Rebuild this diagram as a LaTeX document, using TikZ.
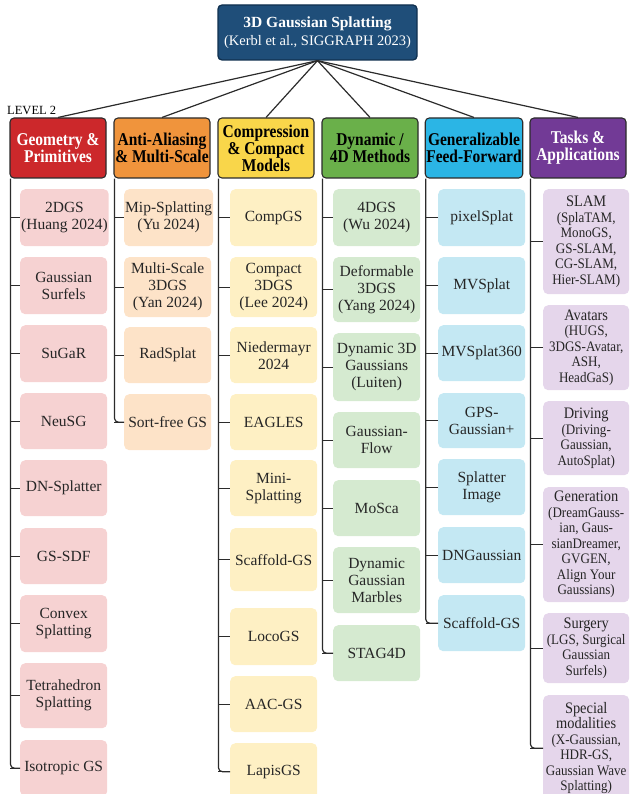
\documentclass[tikz,border=0pt]{standalone}
\usepackage{fontspec}
\setmainfont{Liberation Serif}
\newfontfamily\narrowfont{Liberation Serif}[FakeStretch=0.86]
\newfontfamily\semifont{Liberation Serif}[FakeStretch=0.9]
\usepackage{tikz}
\usetikzlibrary{calc}

\definecolor{rootc}{HTML}{1F4E79}
\definecolor{rootd}{HTML}{10304F}
\definecolor{linec}{HTML}{2B2B2B}
\definecolor{geoc}{HTML}{CC282B}
\definecolor{geol}{HTML}{F6D2D2}
\definecolor{aac}{HTML}{F0943C}
\definecolor{aal}{HTML}{FDE3C8}
\definecolor{cmpc}{HTML}{F9D64A}
\definecolor{cmpl}{HTML}{FEF0C4}
\definecolor{dync}{HTML}{6AB04A}
\definecolor{dynl}{HTML}{D5EAD0}
\definecolor{genc}{HTML}{2BB5E5}
\definecolor{genl}{HTML}{C4E8F3}
\definecolor{appc}{HTML}{723A96}
\definecolor{appl}{HTML}{E5D6EB}

\newcommand\tasktitle[1]{{\fontsize{16}{15.5}\selectfont #1}}

\tikzset{
  link/.style={draw=linec, line width=1.2pt},
  rootbox/.style={draw=rootd, line width=1.3pt, fill=rootc, rounded corners=4pt, text=white,
    align=center, minimum width=199pt, minimum height=55pt, inner sep=1pt,
    font={\fontsize{15}{18}\selectfont}},
  catbox/.style={draw=linec, line width=1.1pt, rounded corners=4pt, align=center,
    minimum width=96pt, minimum height=60pt, inner sep=1pt,
    font={\narrowfont\bfseries\fontsize{18}{17}\selectfont}},
  leafbox/.style={anchor=north west, rounded corners=5pt, align=center, minimum width=87pt,
    inner xsep=1pt, inner ysep=2pt, text=black!85, font={\fontsize{15.5}{17}\selectfont}},
}

\begin{document}
\begin{tikzpicture}[x=1pt, y=-1pt]
  % Boundary
  \path[use as bounding box] (0,0) rectangle (629,794);
  % Root
  \node[rootbox] (root) at (317.5,32.5)
    {{\bfseries\fontsize{15.5}{18}\selectfont 3D Gaussian Splatting}\\{\fontsize{14.5}{18}\selectfont (Kerbl et al., SIGGRAPH 2023)}};
  \node[anchor=base west, inner sep=0pt, font={\fontsize{12.5}{14}\selectfont}] (lvl) at (7,115) {LEVEL 2};
  % Level 2
  \node[catbox, fill=geoc, text=white] (geo) at (58,148) {Geometry \&\\Primitives};
  \node[catbox, fill=aac] (aa) at (162,148) {Anti-Aliasing\\\& Multi-Scale};
  \node[catbox, fill=cmpc] (cmp) at (266,148) {Compression\\\& Compact\\Models};
  \node[catbox, fill=dync] (dyn) at (370,148) {Dynamic /\\4D Methods};
  \node[catbox, fill=genc] (gen) at (474,148) {Generalizable\\Feed-Forward};
  \node[catbox, fill=appc, text=white] (app) at (578,148) {Tasks \&\\Applications};
  \foreach \c in {geo,aa,cmp,dyn,gen,app}
    \draw[link] (root.south) -- (\c.north);
  % Trunks
  \foreach \c in {geo,aa,cmp,dyn,gen,app}
    \coordinate (\c t) at ($(\c.south west)+(1,0)$);
  % Geometry
  \foreach \ytop/\hh/\lbl [count=\i] in {189/57/{2DGS\\(Huang 2024)}, 257/57/{Gaussian\\Surfels},
      325/57/SuGaR, 393/56/NeuSG, 460/56/DN-Splatter, 528/56/GS-SDF, 595/57/{Convex\\Splatting},
      663/65/{Tetrahedron\\Splatting}, 740/56/{Isotropic GS}}
  {
    \node[leafbox, fill=geol, minimum height=\hh] (geo\i) at (20,\ytop) {\lbl};
    \draw[link] (geot |- geo\i.west) -- (geo\i.west);
  }
  \draw[link, rounded corners=4pt] (geot) |- (geo9.west);
  % Anti-aliasing
  \foreach \ytop/\hh/\lbl [count=\i] in {189/57/{Mip-Splatting\\(Yu 2024)}, 257/60/{Multi-Scale\\3DGS\\(Yan 2024)},
      327/56/RadSplat, 394/56/{Sort-free GS}}
  {
    \node[leafbox, fill=aal, minimum height=\hh] (aa\i) at (124,\ytop) {\lbl};
    \draw[link] (aat |- aa\i.west) -- (aa\i.west);
  }
  \draw[link, rounded corners=4pt] (aat) |- (aa4.west);
  % Compression
  \foreach \ytop/\hh/\lbl [count=\i] in {189/57/CompGS, 257/60/{Compact\\3DGS\\(Lee 2024)},
      327/56/{Niedermayr\\2024}, 394/56/EAGLES, 460/56/{Mini-\\Splatting}, 528/63/Scaffold-GS,
      608/57/LocoGS, 676/56/AAC-GS, 743/57/LapisGS}
  {
    \node[leafbox, fill=cmpl, minimum height=\hh] (cmp\i) at (230,\ytop) {\lbl};
    \draw[link] (cmpt |- cmp\i.west) -- (cmp\i.west);
  }
  \draw[link, rounded corners=4pt] (cmpt) |- (cmp9.west);
  % Dynamic
  \foreach \ytop/\hh/\lbl [count=\i] in {189/57/{4DGS\\(Wu 2024)}, 257/65/{Deformable\\3DGS\\(Yang 2024)},
      333/68/{Dynamic 3D\\Gaussians\\(Luiten)}, 412/56/{Gaussian-\\Flow}, 480/56/MoSca,
      547/66/{Dynamic\\Gaussian\\Marbles}, 625/56/STAG4D}
  {
    \node[leafbox, fill=dynl, minimum height=\hh] (dyn\i) at (333,\ytop) {\lbl};
    \draw[link] (dynt |- dyn\i.west) -- (dyn\i.west);
  }
  \draw[link, rounded corners=4pt] (dynt) |- (dyn7.west);
  % Generalizable
  \foreach \ytop/\hh/\lbl [count=\i] in {189/57/pixelSplat, 257/57/MVSplat, 325/56/MVSplat360,
      393/55/{GPS-\\Gaussian+}, 459/56/{Splatter\\Image}, 527/56/DNGaussian, 595/56/Scaffold-GS}
  {
    \node[leafbox, fill=genl, minimum height=\hh] (gen\i) at (438,\ytop) {\lbl};
    \draw[link] (gent |- gen\i.west) -- (gen\i.west);
  }
  \draw[link, rounded corners=4pt] (gent) |- (gen7.west);
  % Tasks
  \foreach \ytop/\hh/\lbl [count=\i] in {
      189/105/{\tasktitle{SLAM}\\(SplaTAM,\\MonoGS,\\GS-SLAM,\\CG-SLAM,\\Hier-SLAM)},
      305/85/{\tasktitle{Avatars}\\(HUGS,\\3DGS-Avatar,\\ASH,\\HeadGaS)},
      401/74/{\tasktitle{Driving}\\(Driving-\\Gaussian,\\AutoSplat)},
      487/115/{\tasktitle{Generation}\\(DreamGauss-\\ian, Gaus-\\sianDreamer,\\GVGEN,\\Align Your\\Gaussians)},
      613/70/{\tasktitle{Surgery}\\(LGS, Surgical\\Gaussian\\Surfels)},
      695/106/{\tasktitle{Special}\\\tasktitle{modalities}\\(X-Gaussian,\\HDR-GS,\\Gaussian Wave\\Splatting)}}
  {
    \node[leafbox, fill=appl, minimum width=86pt, minimum height=\hh,
      font={\semifont\fontsize{14.5}{15.5}\selectfont}] (app\i) at (543,\ytop) {\lbl};
    \draw[link] (appt |- app\i.west) -- (app\i.west);
  }
  \draw[link, rounded corners=4pt] (appt) |- (app6.west);
\end{tikzpicture}
\end{document}
